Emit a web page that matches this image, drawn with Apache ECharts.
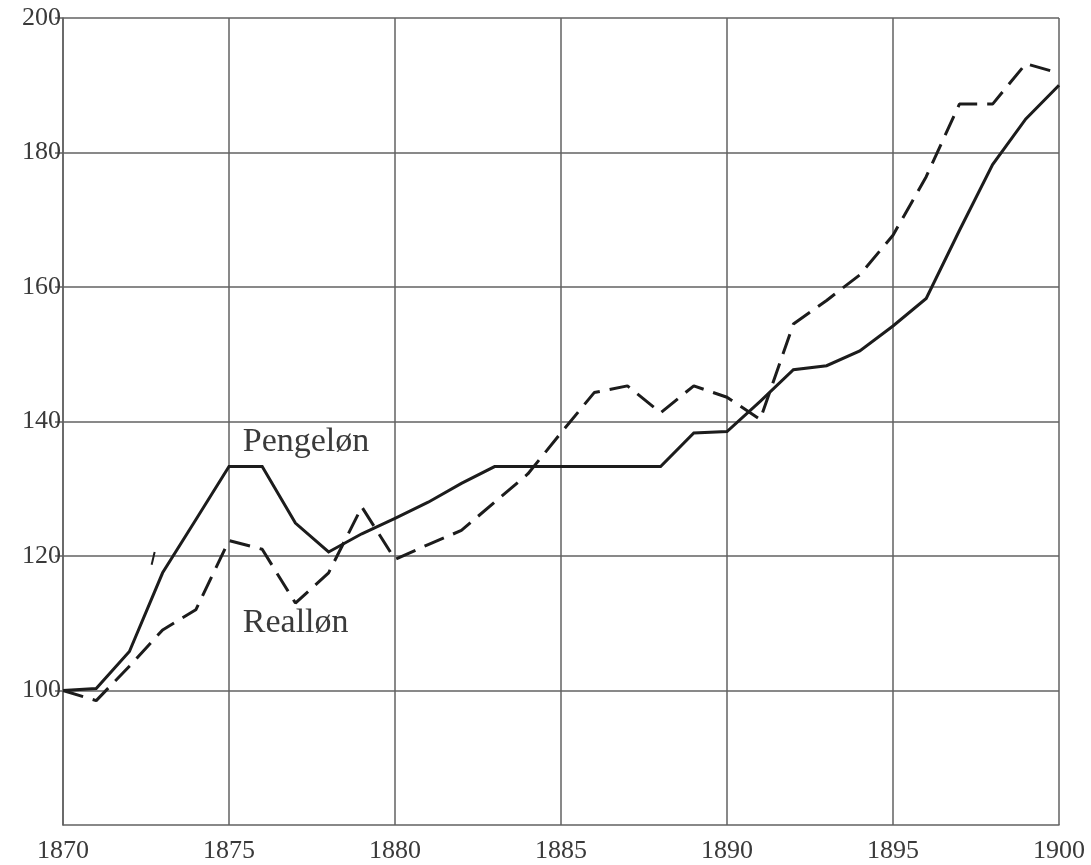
<!DOCTYPE html>
<html>
<head>
<meta charset="utf-8">
<script src="https://cdn.jsdelivr.net/npm/echarts@6/dist/echarts.min.js"></script>
<style>
  html, body { margin: 0; padding: 0; background: #fff; }
  #chart { width: 1091px; height: 865px; }
</style>
</head>
<body>
<div id="chart"></div>
<script>
// years and index values
var years = [1870, 1871, 1872, 1873, 1874, 1875, 1876, 1877, 1878, 1879,
             1880, 1881, 1882, 1883, 1884, 1885, 1886, 1887, 1888, 1889,
             1890, 1891, 1892, 1893, 1894, 1895, 1896, 1897, 1898, 1899, 1900];

var pengelon = [100.0, 100.3, 105.8, 117.5, 125.4, 133.3, 133.3, 124.9, 120.6, 123.3,
                125.6, 128.0, 130.8, 133.3, 133.3, 133.3, 133.3, 133.3, 133.3, 138.3,
                138.5, 143.0, 147.7, 148.3, 150.5, 154.2, 158.3, 168.4, 178.2, 185.0, 190.0];

var reallon = [100.0, 98.5, 103.6, 109.0, 112.0, 122.3, 121.0, 113.0, 117.5, 127.3,
               119.5, 121.7, 123.8, 128.0, 132.2, 138.3, 144.3, 145.3, 141.3, 145.3,
               143.6, 140.3, 154.5, 158.0, 161.8, 167.7, 176.4, 187.2, 187.2, 193.2, 191.8];

// small stray stroke left of the solid line near 1873
var strayX = [1872.67, 1872.76];
var strayY = [118.7, 120.6];

var xTicks = [1870, 1875, 1880, 1885, 1890, 1895, 1900];
var yTicks = [100, 120, 140, 160, 180, 200];

function pairs(xs, ys) {
  return xs.map(function (x, i) { return [x, ys[i]]; });
}

var inkColor = '#1c1c1c';
var gridColor = '#626262';
var textColor = '#3a3a3a';
var serif = '"Liberation Serif", "DejaVu Serif", serif';

var chart = echarts.init(document.getElementById('chart'));

var option = {
  backgroundColor: '#ffffff',
  animation: false,
  grid: { left: 63, right: 32, top: 18, bottom: 40 },
  xAxis: {
    type: 'value',
    min: 1870,
    max: 1900,
    interval: 5,
    axisLine: { show: true, lineStyle: { color: gridColor, width: 1.5 } },
    axisTick: { show: false },
    axisLabel: {
      color: textColor,
      fontFamily: serif,
      fontSize: 26,
      margin: 13,
      formatter: function (v) { return xTicks.indexOf(v) >= 0 ? String(v) : ''; }
    },
    splitLine: { show: true, lineStyle: { color: gridColor, width: 1.5 } }
  },
  yAxis: {
    type: 'value',
    min: 80,
    max: 200,
    interval: 20,
    axisLine: { show: true, lineStyle: { color: gridColor, width: 1.5 } },
    axisTick: { show: true, length: 8, customValues: yTicks, lineStyle: { color: gridColor, width: 1.5 } },
    axisLabel: {
      color: textColor,
      fontFamily: serif,
      fontSize: 26,
      margin: 2,
      customValues: yTicks,
      formatter: function (v) { return yTicks.indexOf(v) >= 0 ? String(v) : ''; }
    },
    splitLine: { show: true, lineStyle: { color: gridColor, width: 1.5 } }
  },
  series: [
    {
      name: 'Pengeløn',
      type: 'line',
      data: pairs(years, pengelon),
      showSymbol: false,
      lineStyle: { color: inkColor, width: 3, type: 'solid', join: 'miter' },
      markPoint: {
        symbol: 'circle',
        symbolSize: 1,
        itemStyle: { color: 'rgba(0,0,0,0)' },
        data: [{ coord: [1875.4, 137.0] }],
        label: {
          show: true,
          position: 'right',
          distance: 0,
          formatter: 'Pengeløn',
          color: textColor,
          fontFamily: serif,
          fontSize: 34
        }
      }
    },
    {
      name: 'Realløn',
      type: 'line',
      data: pairs(years, reallon),
      showSymbol: false,
      lineStyle: { color: inkColor, width: 3, type: [21, 10] },
      markPoint: {
        symbol: 'circle',
        symbolSize: 1,
        itemStyle: { color: 'rgba(0,0,0,0)' },
        data: [{ coord: [1875.4, 110.0] }],
        label: {
          show: true,
          position: 'right',
          distance: 0,
          formatter: 'Realløn',
          color: textColor,
          fontFamily: serif,
          fontSize: 34
        }
      }
    },
    {
      name: 'stray',
      type: 'line',
      data: pairs(strayX, strayY),
      showSymbol: false,
      silent: true,
      lineStyle: { color: inkColor, width: 2 }
    }
  ]
};

chart.setOption(option);
</script>
</body>
</html>
